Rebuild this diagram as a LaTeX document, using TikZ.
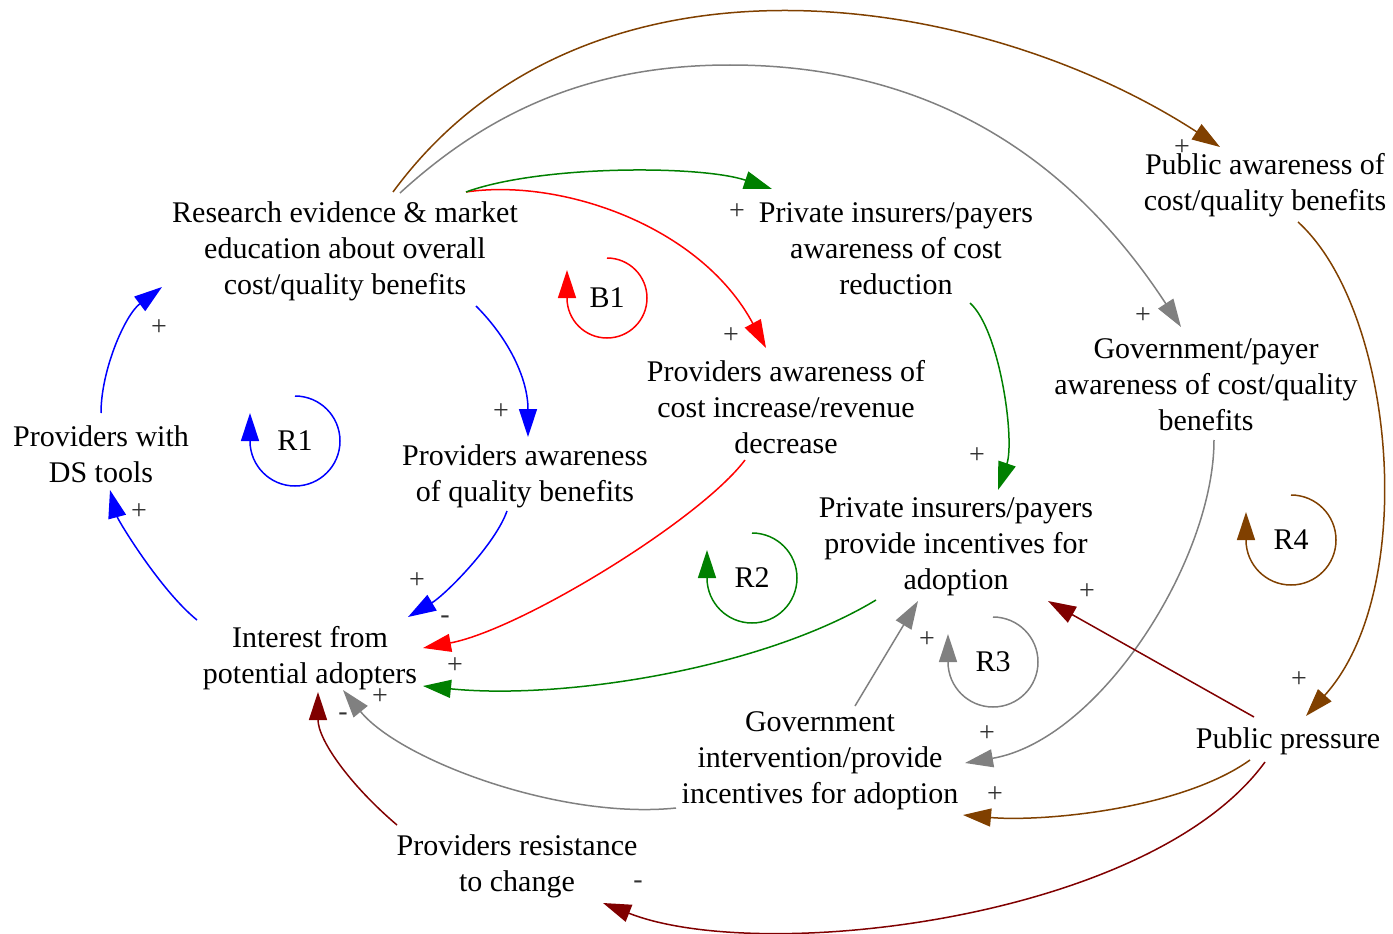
\documentclass[tikz,border=0pt]{standalone}
\usepackage{fontspec}
\setmainfont{Liberation Serif}
\usetikzlibrary{arrows.meta}
\definecolor{cblue}{RGB}{0,0,255}
\definecolor{cred}{RGB}{255,0,0}
\definecolor{cgreen}{RGB}{0,128,0}
\definecolor{cgray}{RGB}{128,128,128}
\definecolor{cbrown}{RGB}{128,64,0}
\definecolor{cdarkred}{RGB}{128,0,0}
\definecolor{signgray}{RGB}{50,50,50}
\begin{document}
\begin{tikzpicture}[x=1pt,y=-1pt,
  var/.style={align=center, inner sep=0pt, font=\fontsize{30}{36}\selectfont},
  sign/.style={inner sep=0pt, text=signgray, font=\fontsize{28}{30}\selectfont},
  looplabel/.style={inner sep=0pt, font=\fontsize{30}{36}\selectfont},
  link/.style={line width=1.5pt, -{Triangle[length=28pt,width=18pt]}},
]
\useasboundingbox (0,0) rectangle (1393,934);

% variables
\node[var] (research) at (345,251) {Research evidence \& market\\education about overall\\cost/quality benefits};
\node[var] (privaware) at (896,249) {Private insurers/payers\\awareness of cost\\reduction};
\node[var] (pubaware) at (1265,185) {Public awareness of\\cost/quality benefits};
\node[var] (provcost) at (786,407) {Providers awareness of\\cost increase/revenue\\decrease};
\node[var] (govaware) at (1206,385) {Government/payer\\awareness of cost/quality\\benefits};
\node[var] (dstools) at (101,454) {Providers with\\DS tools};
\node[var] (provqual) at (525,476) {Providers awareness\\of quality benefits};
\node[var] (privinc) at (956,547) {Private insurers/payers\\provide incentives for\\adoption};
\node[var] (interest) at (310,658) {Interest from\\potential adopters};
\node[var] (pubpress) at (1288,741) {Public pressure};
\node[var] (govint) at (820,761) {Government\\intervention/provide\\incentives for adoption};
\node[var] (resist) at (517,866) {Providers resistance\\to change};

% highest point of the long gray arc
\coordinate (graytop) at (730,65);

% loop labels
\node[looplabel] (B1) at (607,298) {B1};
\node[looplabel] (R1) at (295,441) {R1};
\node[looplabel] (R2) at (752,578) {R2};
\node[looplabel] (R3) at (993,662) {R3};
\node[looplabel] (R4) at (1291,540) {R4};

% loop direction markers
\draw[link,cred] ([shift={(0,-40)}]B1.center) arc[start angle=-90, end angle=180, radius=40] -- ++(0,-28);
\draw[link,cblue] ([shift={(0,-45)}]R1.center) arc[start angle=-90, end angle=180, radius=45] -- ++(0,-28);
\draw[link,cgreen] ([shift={(0,-45)}]R2.center) arc[start angle=-90, end angle=180, radius=45] -- ++(0,-28);
\draw[link,cgray] ([shift={(0,-45)}]R3.center) arc[start angle=-90, end angle=180, radius=45] -- ++(0,-28);
\draw[link,cbrown] ([shift={(0,-45)}]R4.center) arc[start angle=-90, end angle=180, radius=45] -- ++(0,-28);

% blue links
\draw[link,cblue] ([shift={(131,55)}]research.center) .. controls +(34,34) and +(0,-57) .. ([shift={(3,-39)}]provqual.center);
\draw[link,cblue] ([shift={(-18,35)}]provqual.center) .. controls +(-12,34) and +(37,-22) .. ([shift={(98,-41)}]interest.center);
\draw[link,cblue] ([shift={(-113,-38)}]interest.center) .. controls +(-37,-30) and +(8,30) .. ([shift={(9,36)}]dstools.center);
\draw[link,cblue] ([shift={(0,-41)}]dstools.center) .. controls +(0,-43) and +(-37,28) .. ([shift={(-183,36)}]research.center);

% red links
\draw[link,cred] ([shift={(121,-59)}]research.center) .. controls +(94,-14) and +(-66,-123) .. ([shift={(-20,-59)}]provcost.center);
\draw[link,cred] ([shift={(-41,53)}]provcost.center) .. controls +(-45,60) and +(97,-18) .. ([shift={(113,-10)}]interest.center);

% green links
\draw[link,cgreen] ([shift={(121,-59)}]research.center) .. controls +(74,-27) and +(-72,-24) .. ([shift={(-124,-60)}]privaware.center);
\draw[link,cgreen] ([shift={(74,54)}]privaware.center) .. controls +(30,27) and +(17,-50) .. ([shift={(42,-57)}]privinc.center);
\draw[link,cgreen] ([shift={(-80,53)}]privinc.center) .. controls +(-116,70) and +(137,14) .. ([shift={(113,28)}]interest.center);

% gray links
\draw[link,cgray] ([shift={(55,-58)}]research.center) .. controls +(96,-88) and +(-130,0) .. (graytop)
  .. controls +(150,0) and +(-137,-210) .. ([shift={(-25,-58)}]govaware.center);
\draw[link,cgray] ([shift={(8,55)}]govaware.center) .. controls +(0,120) and +(135,-23) .. ([shift={(145,2)}]govint.center);
\draw[link,cgray] ([shift={(35,-55)}]govint.center) -- ([shift={(-38,54)}]privinc.center);
\draw[link,cgray] ([shift={(-144,47)}]govint.center) .. controls +(-116,12) and +(57,70) .. ([shift={(33,32)}]interest.center);

% brown links
\draw[link,cbrown] ([shift={(48,-59)}]research.center) .. controls +(193,-263) and +(-240,-156) .. ([shift={(-45,-38)}]pubaware.center);
\draw[link,cbrown] ([shift={(33,37)}]pubaware.center) .. controls +(97,88) and +(114,-126) .. ([shift={(18,-25)}]pubpress.center);
\draw[link,cbrown] ([shift={(-38,19)}]pubpress.center) .. controls +(-70,50) and +(77,7) .. ([shift={(143,54)}]govint.center);

% dark red links
\draw[link,cdarkred] ([shift={(-34,-24)}]pubpress.center) -- ([shift={(92,54)}]privinc.center);
\draw[link,cdarkred] ([shift={(-23,21)}]pubpress.center) .. controls +(-115,158) and +(157,62) .. ([shift={(86,37)}]resist.center);
\draw[link,cdarkred] ([shift={(-120,-41)}]resist.center) .. controls +(-47,-40) and +(0,48) .. ([shift={(8,34)}]interest.center);

% polarity signs
\node[sign] (s1) at (501,412) {+};
\node[sign] (s2) at (417,581) {+};
\node[sign] (s3) at (139,512) {+};
\node[sign] (s4) at (159,328) {+};
\node[sign] (s5) at (731,336) {+};
\node[sign] (s6) at (445,620) {-};
\node[sign] (s7) at (737,212) {+};
\node[sign] (s8) at (977,456) {+};
\node[sign] (s9) at (455,666) {+};
\node[sign] (s10) at (1143,316) {+};
\node[sign] (s11) at (987,734) {+};
\node[sign] (s12) at (927,640) {+};
\node[sign] (s13) at (380,697) {+};
\node[sign] (s14) at (1182,148) {+};
\node[sign] (s15) at (1299,680) {+};
\node[sign] (s16) at (995,795) {+};
\node[sign] (s17) at (1087,592) {+};
\node[sign] (s18) at (638,885) {-};
\node[sign] (s19) at (343,717) {-};
\end{tikzpicture}
\end{document}
